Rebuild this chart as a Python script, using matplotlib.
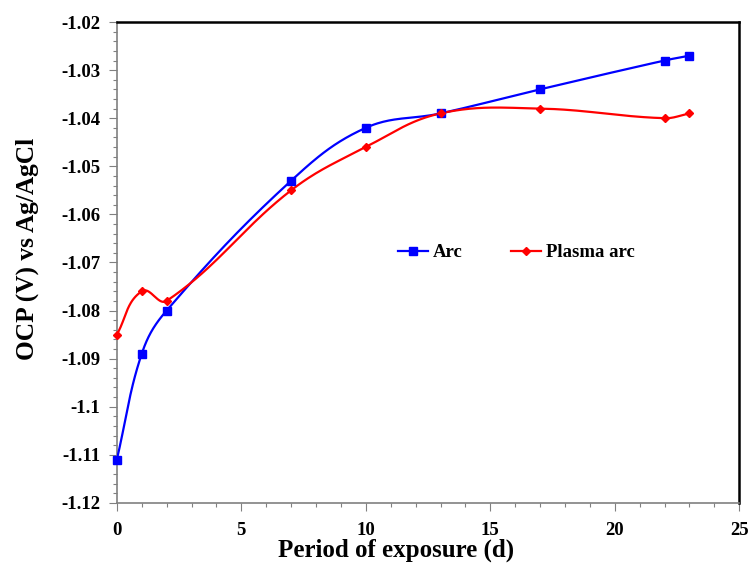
import numpy as np
import matplotlib
matplotlib.use("Agg")
import matplotlib.pyplot as plt
from matplotlib.ticker import MultipleLocator, FormatStrFormatter
from matplotlib.lines import Line2D

plt.rcParams['font.family'] = ['Liberation Serif', 'DejaVu Serif']
plt.rcParams['font.weight'] = 'bold'

days = [0, 1, 2, 7, 10, 13, 17, 22, 23]
ocp_arc = [-1.111, -1.089, -1.080, -1.053, -1.042, -1.039, -1.034, -1.028, -1.027]
ocp_plasma = [-1.085, -1.076, -1.078, -1.055, -1.046, -1.039, -1.038, -1.040, -1.039]

XLIM = (0, 25)
YLIM = (-1.12, -1.02)


def smooth(x, y, sx, sy, k=0.38, n=40):
    # bezier through the points, tangent length scaled by each segment's chord
    px = (np.asarray(x, float) - XLIM[0]) / (XLIM[1] - XLIM[0]) * sx
    py = (np.asarray(y, float) - YLIM[0]) / (YLIM[1] - YLIM[0]) * sy
    P = np.column_stack([px, py])
    m = len(P)
    T = np.zeros_like(P)
    for i in range(m):
        a = P[max(i - 1, 0)]
        b = P[min(i + 1, m - 1)]
        d = b - a
        T[i] = d / np.hypot(*d)
    out = []
    t = np.linspace(0, 1, n)[:, None]
    for i in range(m - 1):
        p1, p2 = P[i], P[i + 1]
        L = np.hypot(*(p2 - p1))
        c1 = p1 + T[i] * L * k
        c2 = p2 - T[i + 1] * L * k
        seg = ((1 - t) ** 3) * p1 + 3 * ((1 - t) ** 2) * t * c1 + 3 * (1 - t) * t ** 2 * c2 + t ** 3 * p2
        out.append(seg if i == 0 else seg[1:])
    out = np.vstack(out)
    xs = out[:, 0] / sx * (XLIM[1] - XLIM[0]) + XLIM[0]
    ys = out[:, 1] / sy * (YLIM[1] - YLIM[0]) + YLIM[0]
    return xs, ys


fig = plt.figure(figsize=(7.49, 5.65), dpi=100)
ax = fig.add_axes([0.156, 0.110, 0.831, 0.851])
ax.set_xlim(*XLIM)
ax.set_ylim(*YLIM)

w_px, h_px = 0.831 * 749, 0.851 * 565

for y, col, mk, ms in [(ocp_arc, '#0000ff', 's', 6.3), (ocp_plasma, '#ff0000', 'D', 4.5)]:
    xs, ys = smooth(days, y, w_px, h_px)
    ax.plot(xs, ys, color=col, lw=1.6, zorder=3)
    ax.plot(days, y, ls='none', marker=mk, ms=ms, color=col, zorder=4, clip_on=False)

ax.xaxis.set_major_locator(MultipleLocator(5))
ax.xaxis.set_minor_locator(MultipleLocator(1))
ax.yaxis.set_major_locator(MultipleLocator(0.01))
ax.yaxis.set_minor_locator(MultipleLocator(0.002))
ax.xaxis.set_major_formatter(FormatStrFormatter('%g'))
ax.yaxis.set_major_formatter(FormatStrFormatter('%g'))

ax.tick_params(which='both', direction='out', colors='#808080', labelcolor='black', labelsize=13.5)
ax.tick_params(which='major', length=6, width=0.8)
ax.tick_params(which='minor', length=3, width=0.8)
ax.tick_params(axis='x', pad=8)
ax.tick_params(axis='y', pad=6)

ax.spines['left'].set_color('#808080')
ax.spines['bottom'].set_color('#808080')
ax.spines['left'].set_linewidth(1.2)
ax.spines['bottom'].set_linewidth(1.2)
ax.spines['top'].set_color('black')
ax.spines['right'].set_color('black')
ax.spines['top'].set_linewidth(1.8)
ax.spines['right'].set_linewidth(1.8)

ax.set_xlabel('Period of exposure (d)', fontsize=18, fontweight='bold')
ax.set_ylabel('OCP (V) vs Ag/AgCl', fontsize=18.3, fontweight='bold')
ax.xaxis.set_label_coords(0.449, -0.075)
ax.yaxis.set_label_coords(-0.125, 0.528)

handles = [
    Line2D([], [], color='#0000ff', lw=1.6, marker='s', ms=6.3),
    Line2D([], [], color='#ff0000', lw=1.6, marker='D', ms=4.5),
]
ax.legend(handles, ['Arc', 'Plasma arc'], loc='center', bbox_to_anchor=(0.642, 0.52),
          ncol=2, frameon=False, handlelength=1.6, handletextpad=0.25,
          columnspacing=2.6, prop={'weight': 'bold', 'size': 13.5})

fig.savefig('out.png', dpi=100)
